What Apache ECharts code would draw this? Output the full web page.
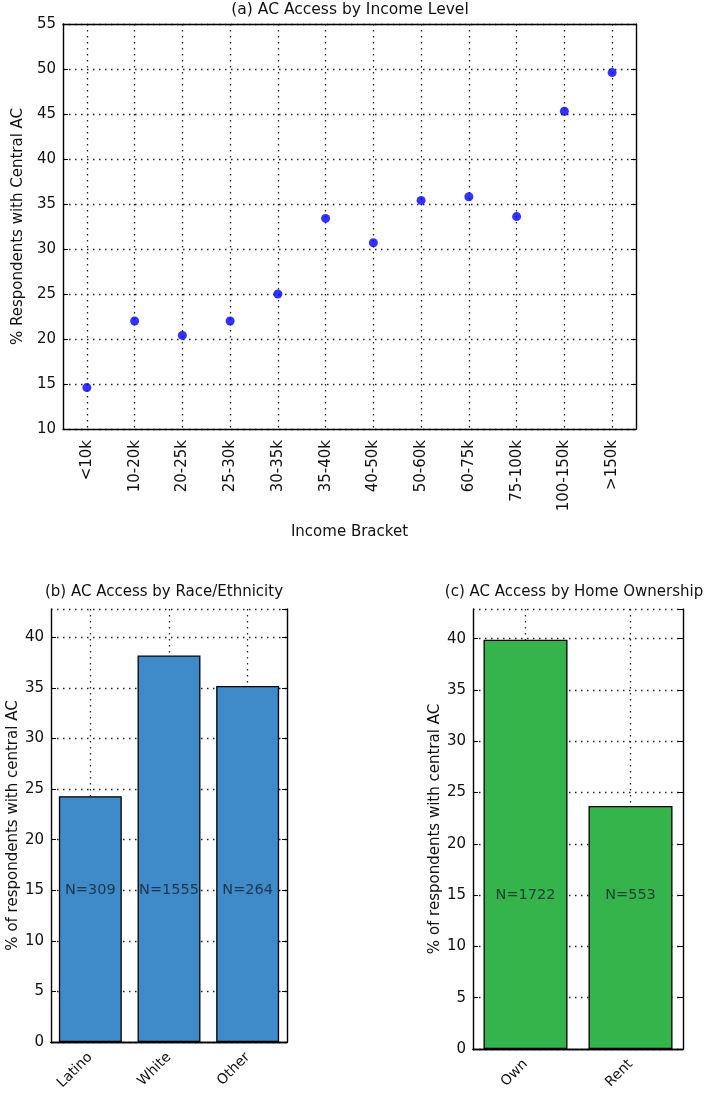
<!DOCTYPE html>
<html>
<head>
<meta charset="utf-8">
<script src="https://cdn.jsdelivr.net/npm/echarts@6/dist/echarts.min.js"></script>
<style>html,body{margin:0;padding:0;background:#fff}#c{width:709px;height:1093px}</style>
</head>
<body>
<div id="c"></div>
<script>
var incomeCats = ['<10k','10-20k','20-25k','25-30k','30-35k','35-40k','40-50k','50-60k','60-75k','75-100k','100-150k','>150k'];
var incomePct = [14.6, 22.0, 20.4, 22.0, 25.0, 33.4, 30.7, 35.4, 35.8, 33.6, 45.3, 49.6];
var raceCats = ['Latino','White','Other'];
var racePct = [24.3, 38.2, 35.2];
var raceN = [309, 1555, 264];
var homeCats = ['Own','Rent'];
var homePct = [39.9, 23.7];
var homeN = [1722, 553];
var titles = ['(a) AC Access by Income Level','(b) AC Access by Race/Ethnicity','(c) AC Access by Home Ownership'];
var nLabelLevel = 15;

var FONT = 'DejaVu Sans';
var dotted = {color:'#222', width:1.3, type:[1.5,4.5]};
var chart = echarts.init(document.getElementById('c'), null, {renderer:'canvas'});

function catX(grid, cats, rotate, fs, margin, name, nameGap){
  return [{
    type:'category', gridIndex:grid, data:cats, position:'bottom',
    axisLine:{lineStyle:{color:'#000', width:1.4}},
    axisTick:{inside:true, alignWithLabel:true, length:5, lineStyle:{color:'#000'}},
    axisLabel:{rotate:rotate, color:'#111', fontSize:fs, fontFamily:FONT, margin:margin, interval:0},
    splitLine:{show:true, alignWithLabel:true, lineStyle:dotted},
    name:name||'', nameLocation:'middle', nameGap:nameGap||0,
    nameTextStyle:{color:'#111', fontSize:15, fontFamily:FONT}
  },{
    type:'category', gridIndex:grid, data:cats, position:'top',
    axisLine:{lineStyle:{color:'#000', width:1.4}},
    axisTick:{inside:true, alignWithLabel:true, length:5, lineStyle:{color:'#000'}},
    axisLabel:{show:false}, splitLine:{show:false}
  }];
}
function valY(grid, min, max, name, nameGap){
  return [{
    type:'value', gridIndex:grid, min:min, max:max, interval:5, position:'left',
    axisLine:{show:true, lineStyle:{color:'#000', width:1.4}},
    axisTick:{show:true, inside:true, length:5, lineStyle:{color:'#000'}},
    axisLabel:{color:'#111', fontSize:15, fontFamily:FONT, margin:7, showMaxLabel: (max%5===0)},
    splitLine:{show:true, lineStyle:dotted},
    name:name, nameLocation:'middle', nameGap:nameGap, nameRotate:90,
    nameTextStyle:{color:'#111', fontSize:15, fontFamily:FONT}
  },{
    type:'value', gridIndex:grid, min:min, max:max, interval:5, position:'right',
    axisLine:{show:true, lineStyle:{color:'#000', width:1.4}},
    axisTick:{show:true, inside:true, length:5, lineStyle:{color:'#000'}},
    axisLabel:{show:false}, splitLine:{show:false}
  }];
}

var xAxes = [].concat(
  catX(0, incomeCats, 90, 15, 11, 'Income Bracket', 96),
  catX(1, raceCats, 45, 14, 13),
  catX(2, homeCats, 45, 14, 13)
);
var yAxes = [].concat(
  valY(0, 10, 55, '% Respondents with Central AC', 31),
  valY(1, 0, 42.8, '% of respondents with central AC', 30),
  valY(2, 0, 42.9, '% of respondents with central AC', 30)
);

function nLabels(xi, yi, ns){
  return {
    type:'scatter', xAxisIndex:xi, yAxisIndex:yi, symbolSize:0, z:5,
    data: ns.map(function(n){ return nLabelLevel; }),
    label:{show:true, position:'inside', color:'#16202c', fontSize:14.5, fontFamily:FONT,
      formatter:function(p){ return 'N=' + ns[p.dataIndex]; }},
    silent:true
  };
}

var tStyle = {fontSize:15, fontWeight:'normal', color:'#111', fontFamily:FONT};
var option = {
  animation:false,
  backgroundColor:'#fff',
  title: [
    {text:titles[0], left:350, top:2, padding:0, textAlign:'center', textStyle:{fontSize:15.5, fontWeight:'normal', color:'#111', fontFamily:FONT}},
    {text:titles[1], left:164, top:585, padding:0, textAlign:'center', textStyle:tStyle},
    {text:titles[2], left:574, top:585, padding:0, textAlign:'center', textStyle:tStyle}
  ],
  grid: [
    {left:63, top:24, width:573, height:405},
    {left:51, top:609, width:236, height:433},
    {left:473, top:609, width:210, height:440}
  ],
  xAxis: xAxes,
  yAxis: yAxes,
  series: [
    {type:'scatter', xAxisIndex:0, yAxisIndex:0, data:incomePct, symbol:'circle', symbolSize:9,
     itemStyle:{color:'#0000ff'}},
    {type:'bar', xAxisIndex:2, yAxisIndex:2, data:racePct, barWidth:'80%',
     itemStyle:{color:'#3f8ac8', borderColor:'#000', borderWidth:1.3}},
    nLabels(2, 2, raceN),
    {type:'bar', xAxisIndex:4, yAxisIndex:4, data:homePct, barWidth:'80%',
     itemStyle:{color:'#35b44c', borderColor:'#000', borderWidth:1.3}},
    nLabels(4, 4, homeN)
  ]
};
chart.setOption(option);
</script>
</body>
</html>
